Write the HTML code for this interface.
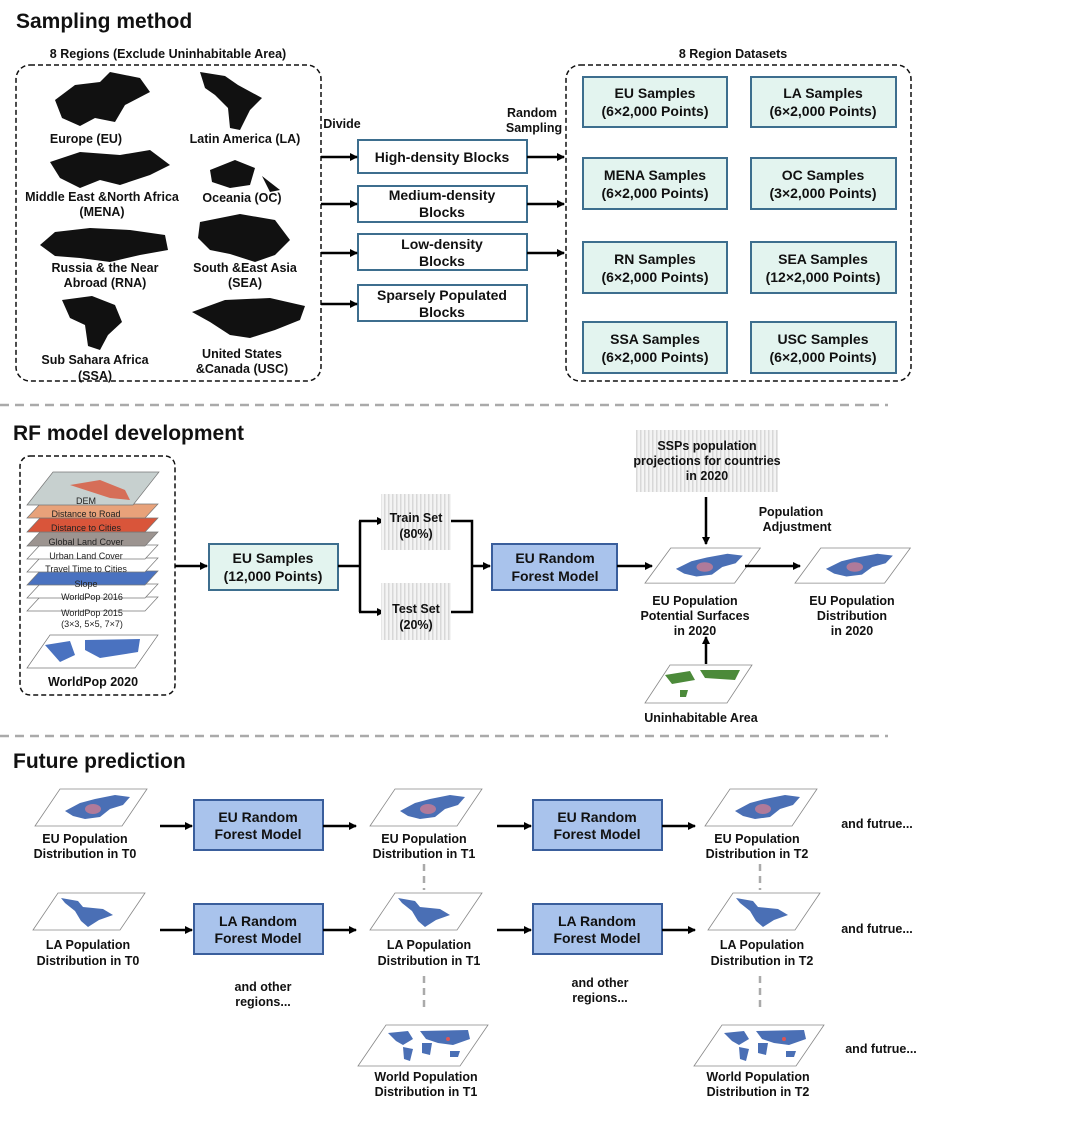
<!DOCTYPE html>
<html><head><meta charset="utf-8"><style>
html,body{margin:0;padding:0;background:#fff}
svg{display:block}
text{font-family:"Liberation Sans",Arial,sans-serif;fill:#111}
.t{font-size:21px;font-weight:bold}
.b{font-size:12.5px;font-weight:bold;text-anchor:middle}
.bx{font-size:14px;font-weight:bold;text-anchor:middle}
.s{font-size:9px;text-anchor:middle;fill:#222}
.a{stroke:#000;stroke-width:2.5;fill:none}
</style></head><body>
<svg width="1080" height="1135" viewBox="0 0 1080 1135" xmlns="http://www.w3.org/2000/svg">
<defs>
<marker id="ar" markerWidth="8" markerHeight="8" refX="7" refY="4" orient="auto" markerUnits="userSpaceOnUse"><path d="M0,0 L8,4 L0,8 Z" fill="#000"/></marker>
<pattern id="hatch" width="4" height="10" patternUnits="userSpaceOnUse"><rect width="4" height="10" fill="#f4f4f4"/><rect width="1.5" height="10" fill="#d8d8d8"/></pattern>
<g id="eumap"><path d="M0,37 L25,0 L112,0 L87,37 Z" fill="#fff" stroke="#888" stroke-width="0.8"/><path d="M30,22 L45,14 L60,10 L80,6 L95,8 L88,16 L75,20 L65,28 L50,30 L38,27 Z" fill="#4a6fb5"/><ellipse cx="58" cy="20" rx="8" ry="5" fill="#b07a9a"/></g>
<g id="lamap"><path d="M0,37 L25,0 L112,0 L87,37 Z" fill="#fff" stroke="#888" stroke-width="0.8"/><path d="M28,5 L45,8 L50,14 L70,16 L80,22 L66,27 L55,34 L48,28 L42,18 L32,10 Z" fill="#4a6fb5"/></g>
<g id="wmap"><path d="M0,41 L28,0 L130,0 L102,41 Z" fill="#fff" stroke="#888" stroke-width="0.8"/><path d="M30,8 L50,6 L55,14 L45,20 L38,16 Z M45,22 L55,24 L52,36 L46,34 Z M62,6 L110,5 L112,14 L95,20 L80,18 L68,14 Z M64,18 L74,18 L72,30 L64,28 Z M92,26 L102,26 L100,32 L92,32 Z" fill="#4a6fb5"/><circle cx="90" cy="14" r="2" fill="#d55"/></g>
</defs>

<!-- Section 1 -->
<text x="16" y="28" class="t">Sampling method</text>
<text x="168" y="58" class="b">8 Regions (Exclude Uninhabitable Area)</text>
<rect x="16" y="65" width="305" height="316" rx="14" fill="none" stroke="#111" stroke-width="1.5" stroke-dasharray="5,3"/>
<g fill="#111">
<path d="M55,100 L75,85 L100,82 L110,72 L140,78 L150,92 L125,105 L115,122 L95,118 L80,126 L62,118 Z"/>
<path d="M200,72 L225,76 L238,85 L262,98 L250,110 L240,130 L230,128 L228,108 L215,95 L205,88 Z"/>
<path d="M50,162 L80,152 L120,155 L150,150 L170,165 L150,175 L120,185 L100,180 L80,188 L60,178 Z"/>
<path d="M210,170 L235,160 L255,168 L250,185 L230,188 L212,182 Z M262,176 L280,190 L270,192 Z"/>
<path d="M40,245 L55,232 L90,228 L130,230 L165,235 L168,250 L140,255 L110,262 L80,258 L55,256 Z"/>
<path d="M200,222 L240,214 L275,220 L290,240 L275,255 L255,262 L230,254 L210,250 L198,238 Z"/>
<path d="M62,300 L92,296 L115,305 L122,322 L108,335 L100,350 L88,346 L85,325 L70,318 Z"/>
<path d="M192,312 L225,300 L270,298 L305,306 L300,320 L275,330 L250,338 L230,335 L210,322 Z"/>
</g>
<text x="86" y="143" class="b" font-weight="normal">Europe (EU)</text>
<text x="245" y="143" class="b">Latin America (LA)</text>
<text x="102" y="201" class="b">Middle East &amp;North Africa</text>
<text x="102" y="216" class="b">(MENA)</text>
<text x="242" y="202" class="b">Oceania (OC)</text>
<text x="105" y="272" class="b">Russia &amp; the Near</text>
<text x="105" y="287" class="b">Abroad (RNA)</text>
<text x="245" y="272" class="b">South &amp;East Asia</text>
<text x="245" y="287" class="b">(SEA)</text>
<text x="95" y="364" class="b">Sub Sahara Africa</text>
<text x="95" y="380" class="b">(SSA)</text>
<text x="242" y="358" class="b">United States</text>
<text x="242" y="373" class="b">&amp;Canada (USC)</text>

<text x="342" y="128" class="b">Divide</text>
<text x="532" y="117" class="b">Random</text>
<text x="534" y="132" class="b">Sampling</text>
<g fill="#fff" stroke="#3d6e8e" stroke-width="2">
<rect x="358" y="140" width="169" height="33"/>
<rect x="358" y="186" width="169" height="36"/>
<rect x="358" y="234" width="169" height="36"/>
<rect x="358" y="285" width="169" height="36"/>
</g>
<text x="442" y="162" class="bx">High-density Blocks</text>
<text x="442" y="200" class="bx">Medium-density</text><text x="442" y="217" class="bx">Blocks</text>
<text x="442" y="249" class="bx">Low-density</text><text x="442" y="266" class="bx">Blocks</text>
<text x="442" y="300" class="bx">Sparsely Populated</text><text x="442" y="317" class="bx">Blocks</text>
<g class="a" marker-end="url(#ar)">
<line x1="321" y1="157" x2="357" y2="157"/><line x1="321" y1="204" x2="357" y2="204"/><line x1="321" y1="253" x2="357" y2="253"/><line x1="321" y1="304" x2="357" y2="304"/>
<line x1="527" y1="157" x2="564" y2="157"/><line x1="527" y1="204" x2="564" y2="204"/><line x1="527" y1="253" x2="564" y2="253"/>
</g>
<text x="733" y="58" class="b" font-size="11.5">8 Region Datasets</text>
<rect x="566" y="65" width="345" height="316" rx="14" fill="none" stroke="#111" stroke-width="1.5" stroke-dasharray="5,3"/>
<g fill="#e3f4ef" stroke="#3d6e8e" stroke-width="2">
<rect x="583" y="77" width="144" height="50"/><rect x="751" y="77" width="145" height="50"/>
<rect x="583" y="158" width="144" height="51"/><rect x="751" y="158" width="145" height="51"/>
<rect x="583" y="242" width="144" height="51"/><rect x="751" y="242" width="145" height="51"/>
<rect x="583" y="322" width="144" height="51"/><rect x="751" y="322" width="145" height="51"/>
</g>
<g class="bx">
<text x="655" y="98" class="bx">EU Samples</text><text x="655" y="116" class="bx">(6×2,000 Points)</text>
<text x="823" y="98" class="bx">LA Samples</text><text x="823" y="116" class="bx">(6×2,000 Points)</text>
<text x="655" y="180" class="bx">MENA Samples</text><text x="655" y="198" class="bx">(6×2,000 Points)</text>
<text x="823" y="180" class="bx">OC Samples</text><text x="823" y="198" class="bx">(3×2,000 Points)</text>
<text x="655" y="264" class="bx">RN Samples</text><text x="655" y="282" class="bx">(6×2,000 Points)</text>
<text x="823" y="264" class="bx">SEA Samples</text><text x="823" y="282" class="bx">(12×2,000 Points)</text>
<text x="655" y="344" class="bx">SSA Samples</text><text x="655" y="362" class="bx">(6×2,000 Points)</text>
<text x="823" y="344" class="bx">USC Samples</text><text x="823" y="362" class="bx">(6×2,000 Points)</text>
</g>

<line x1="0" y1="405" x2="888" y2="405" stroke="#aaa" stroke-width="2.5" stroke-dasharray="9,6"/>
<line x1="0" y1="736" x2="888" y2="736" stroke="#aaa" stroke-width="2.5" stroke-dasharray="9,6"/>

<!-- Section 2 -->
<text x="13" y="440" class="t">RF model development</text>
<rect x="20" y="456" width="155" height="239" rx="10" fill="none" stroke="#111" stroke-width="1.5" stroke-dasharray="5,3"/>
<g stroke="#777" stroke-width="0.7">
<path d="M27,611 L40,597 L158,597 L145,611 Z" fill="#fff"/>
<path d="M27,598 L40,584 L158,584 L145,598 Z" fill="#fff"/>
<path d="M27,585 L40,571 L158,571 L145,585 Z" fill="#4a72c0"/>
<path d="M27,572 L40,558 L158,558 L145,572 Z" fill="#fff"/>
<path d="M27,559 L40,545 L158,545 L145,559 Z" fill="#fff"/>
<path d="M27,546 L40,532 L158,532 L145,546 Z" fill="#9c9490"/>
<path d="M27,532 L40,518 L158,518 L145,532 Z" fill="#d9553a"/>
<path d="M27,518 L40,504 L158,504 L145,518 Z" fill="#e8a27a"/>
<path d="M27,505 L53,472 L159,472 L133,505 Z" fill="#c7d0cf"/>
<path d="M27,668 L50,635 L158,635 L135,668 Z" fill="#fff"/>
</g>
<path d="M70,485 L100,480 L125,490 L130,500 L110,498 Z" fill="#d9553a" opacity="0.8"/>
<path d="M45,645 L70,641 L75,655 L60,662 Z M85,640 L140,639 L138,652 L100,658 L85,650 Z" fill="#4a72c0"/>
<text x="86" y="504" class="s">DEM</text>
<text x="86" y="517" class="s">Distance to Road</text>
<text x="86" y="531" class="s">Distance to Cities</text>
<text x="86" y="545" class="s">Global Land Cover</text>
<text x="86" y="559" class="s">Urban Land Cover</text>
<text x="86" y="572" class="s">Travel Time to Cities</text>
<text x="86" y="587" class="s">Slope</text>
<text x="92" y="600" class="s">WorldPop 2016</text>
<text x="92" y="616" class="s">WorldPop 2015</text>
<text x="92" y="627" class="s">(3×3, 5×5, 7×7)</text>
<text x="93" y="686" class="b" font-size="9.5">WorldPop 2020</text>

<line x1="175" y1="566" x2="207" y2="566" class="a" marker-end="url(#ar)"/>
<rect x="209" y="544" width="129" height="46" fill="#e3f4ef" stroke="#3d6e8e" stroke-width="2"/>
<text x="273" y="563" class="bx">EU Samples</text><text x="273" y="581" class="bx">(12,000 Points)</text>
<path d="M338,566 L360,566 M360,521 L360,612" class="a"/>
<line x1="359" y1="521" x2="384" y2="521" class="a" marker-end="url(#ar)"/>
<line x1="359" y1="612" x2="384" y2="612" class="a" marker-end="url(#ar)"/>
<rect x="381" y="494" width="70" height="56" fill="url(#hatch)"/>
<rect x="381" y="583" width="70" height="57" fill="url(#hatch)"/>
<text x="416" y="522" class="b">Train Set</text><text x="416" y="538" class="b">(80%)</text>
<text x="416" y="613" class="b">Test Set</text><text x="416" y="629" class="b">(20%)</text>
<path d="M451,521 L472,521 L472,612 L451,612" class="a"/>
<line x1="472" y1="566" x2="490" y2="566" class="a" marker-end="url(#ar)"/>
<rect x="492" y="544" width="125" height="46" fill="#a9c3ec" stroke="#3a5e9c" stroke-width="2"/>
<text x="555" y="563" class="bx">EU Random</text><text x="555" y="581" class="bx">Forest Model</text>
<line x1="617" y1="566" x2="652" y2="566" class="a" marker-end="url(#ar)"/>
<use href="#eumap" transform="translate(645,548) scale(1.03,0.95)"/>
<line x1="745" y1="566" x2="800" y2="566" class="a" marker-end="url(#ar)"/>
<use href="#eumap" transform="translate(795,548) scale(1.03,0.95)"/>
<rect x="636" y="430" width="142" height="62" fill="url(#hatch)"/>
<text x="707" y="450" class="b">SSPs population</text>
<text x="707" y="465" class="b">projections for countries</text>
<text x="707" y="480" class="b">in 2020</text>
<line x1="706" y1="497" x2="706" y2="544" class="a" marker-end="url(#ar)"/>
<text x="791" y="516" class="b">Population</text><text x="797" y="531" class="b">Adjustment</text>
<text x="695" y="605" class="b">EU Population</text><text x="695" y="620" class="b">Potential Surfaces</text><text x="695" y="635" class="b">in 2020</text>
<text x="852" y="605" class="b">EU Population</text><text x="852" y="620" class="b">Distribution</text><text x="852" y="635" class="b">in 2020</text>
<line x1="706" y1="664" x2="706" y2="637" class="a" marker-end="url(#ar)"/>
<path d="M645,703 L670,665 L752,665 L727,703 Z" fill="#fff" stroke="#888" stroke-width="0.8"/>
<path d="M665,675 L690,671 L695,680 L672,684 Z M700,670 L740,670 L735,680 L705,678 Z M680,690 L688,690 L686,697 L680,697 Z" fill="#4c8a3a"/>
<text x="701" y="722" class="b">Uninhabitable Area</text>

<!-- Section 3 -->
<text x="13" y="768" class="t">Future prediction</text>
<use href="#eumap" transform="translate(35,789)"/>
<text x="85" y="843" class="b">EU Population</text><text x="85" y="858" class="b">Distribution in T0</text>
<use href="#eumap" transform="translate(370,789)"/>
<text x="424" y="843" class="b">EU Population</text><text x="424" y="858" class="b">Distribution in T1</text>
<use href="#eumap" transform="translate(705,789)"/>
<text x="757" y="843" class="b">EU Population</text><text x="757" y="858" class="b">Distribution in T2</text>
<use href="#lamap" transform="translate(33,893)"/>
<text x="88" y="949" class="b">LA Population</text><text x="88" y="965" class="b">Distribution in T0</text>
<use href="#lamap" transform="translate(370,893)"/>
<text x="429" y="949" class="b">LA Population</text><text x="429" y="965" class="b">Distribution in T1</text>
<use href="#lamap" transform="translate(708,893)"/>
<text x="762" y="949" class="b">LA Population</text><text x="762" y="965" class="b">Distribution in T2</text>
<g fill="#a9c3ec" stroke="#3a5e9c" stroke-width="2">
<rect x="194" y="800" width="129" height="50"/><rect x="533" y="800" width="129" height="50"/>
<rect x="194" y="904" width="129" height="50"/><rect x="533" y="904" width="129" height="50"/>
</g>
<text x="258" y="822" class="bx">EU Random</text><text x="258" y="839" class="bx">Forest Model</text>
<text x="597" y="822" class="bx">EU Random</text><text x="597" y="839" class="bx">Forest Model</text>
<text x="258" y="926" class="bx">LA Random</text><text x="258" y="943" class="bx">Forest Model</text>
<text x="597" y="926" class="bx">LA Random</text><text x="597" y="943" class="bx">Forest Model</text>
<g class="a" marker-end="url(#ar)">
<line x1="160" y1="826" x2="192" y2="826"/><line x1="323" y1="826" x2="356" y2="826"/>
<line x1="497" y1="826" x2="531" y2="826"/><line x1="662" y1="826" x2="695" y2="826"/>
<line x1="160" y1="930" x2="192" y2="930"/><line x1="323" y1="930" x2="356" y2="930"/>
<line x1="497" y1="930" x2="531" y2="930"/><line x1="662" y1="930" x2="695" y2="930"/>
</g>
<text x="877" y="828" class="b">and futrue...</text>
<text x="877" y="933" class="b">and futrue...</text>
<text x="881" y="1053" class="b">and futrue...</text>
<g stroke="#aaa" stroke-width="2.5" stroke-dasharray="7,5">
<line x1="424" y1="864" x2="424" y2="890"/><line x1="424" y1="976" x2="424" y2="1010"/>
<line x1="760" y1="864" x2="760" y2="890"/><line x1="760" y1="976" x2="760" y2="1010"/>
</g>
<text x="263" y="991" class="b">and other</text><text x="263" y="1006" class="b">regions...</text>
<text x="600" y="987" class="b">and other</text><text x="600" y="1002" class="b">regions...</text>
<use href="#wmap" transform="translate(358,1025)"/>
<text x="426" y="1081" class="b">World Population</text><text x="426" y="1096" class="b">Distribution in T1</text>
<use href="#wmap" transform="translate(694,1025)"/>
<text x="758" y="1081" class="b">World Population</text><text x="758" y="1096" class="b">Distribution in T2</text>
</svg>
</body></html>
